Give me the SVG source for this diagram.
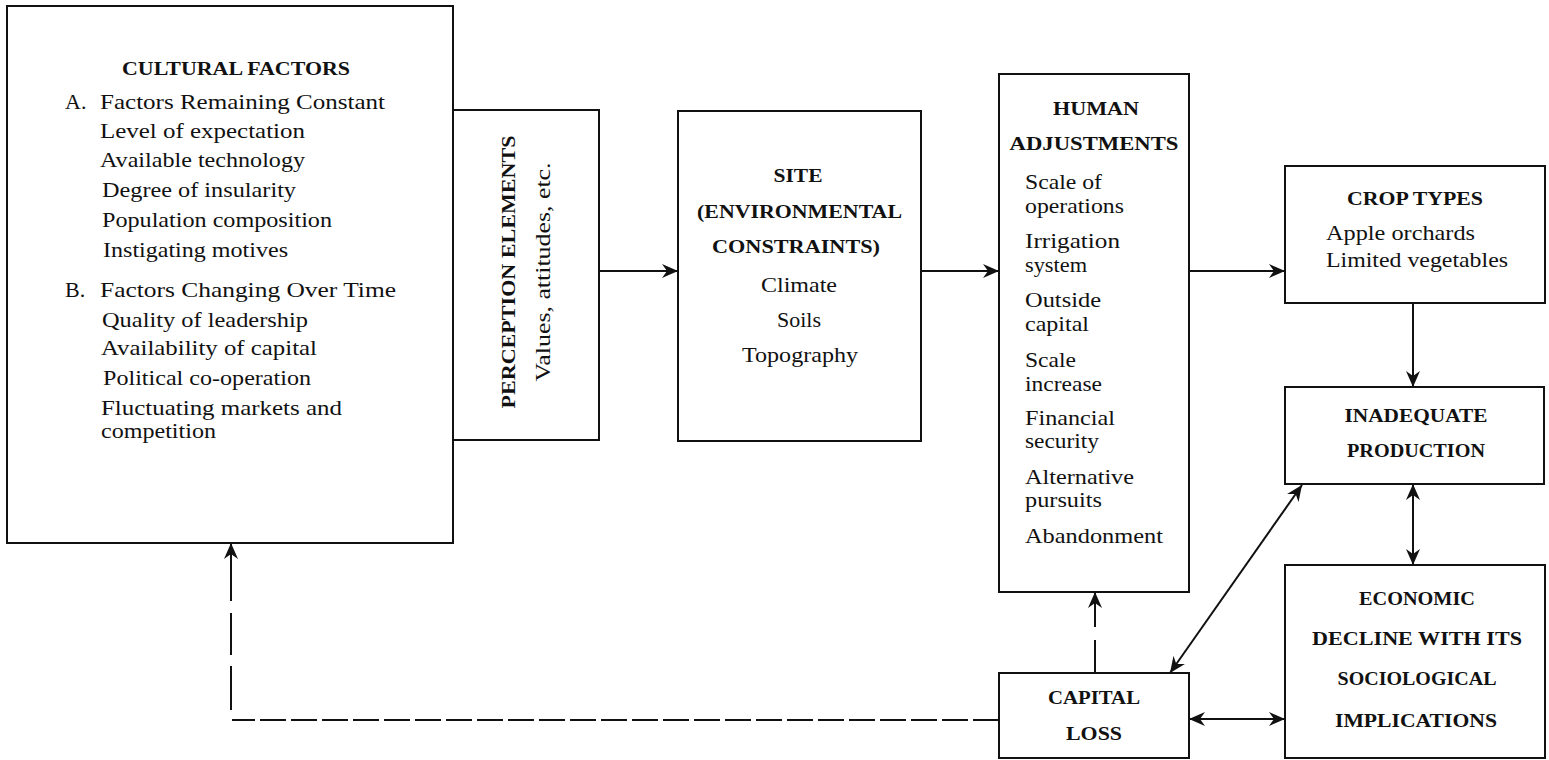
<svg xmlns="http://www.w3.org/2000/svg" width="1549" height="760" viewBox="0 0 1549 760">
<style>
.box{fill:#fff;stroke:#111;stroke-width:2}
.t{font-family:"Liberation Serif","DejaVu Serif",serif;font-size:22px;fill:#111}
.c{font-family:"Liberation Serif","DejaVu Serif",serif;font-size:19px;font-weight:bold;fill:#111}
.m{text-anchor:middle}
.ln{fill:none;stroke:#111;stroke-width:2}
</style>
<defs>
<marker id="ah" viewBox="0 0 16 14" refX="16" refY="7" markerWidth="16" markerHeight="14" markerUnits="userSpaceOnUse" orient="auto-start-reverse">
<path d="M0,0 L16,7 L0,14 L5,7 z" fill="#111"/>
</marker>
</defs>
<rect width="1549" height="760" fill="#fff"/>

<g id="cultural">
<rect class="box" x="7" y="6" width="446" height="537"/>
<text class="c m" x="236" y="75" textLength="228" lengthAdjust="spacingAndGlyphs">CULTURAL FACTORS</text>
<text class="t" x="65" y="109">A.</text>
<text class="t" x="100" y="109" textLength="285" lengthAdjust="spacingAndGlyphs">Factors Remaining Constant</text>
<text class="t" x="100" y="138" textLength="205" lengthAdjust="spacingAndGlyphs">Level of expectation</text>
<text class="t" x="100" y="167" textLength="205" lengthAdjust="spacingAndGlyphs">Available technology</text>
<text class="t" x="102" y="197" textLength="194" lengthAdjust="spacingAndGlyphs">Degree of insularity</text>
<text class="t" x="102" y="227" textLength="230" lengthAdjust="spacingAndGlyphs">Population composition</text>
<text class="t" x="103" y="257" textLength="185" lengthAdjust="spacingAndGlyphs">Instigating motives</text>
<text class="t" x="65" y="297">B.</text>
<text class="t" x="100" y="297" textLength="296" lengthAdjust="spacingAndGlyphs">Factors Changing Over Time</text>
<text class="t" x="102" y="327" textLength="206" lengthAdjust="spacingAndGlyphs">Quality of leadership</text>
<text class="t" x="101" y="355" textLength="216" lengthAdjust="spacingAndGlyphs">Availability of capital</text>
<text class="t" x="103" y="385" textLength="208" lengthAdjust="spacingAndGlyphs">Political co-operation</text>
<text class="t" x="101" y="415" textLength="241" lengthAdjust="spacingAndGlyphs">Fluctuating markets and</text>
<text class="t" x="101" y="438" textLength="115" lengthAdjust="spacingAndGlyphs">competition</text>
</g>

<g id="perception">
<rect class="box" x="453" y="110" width="146" height="330"/>
<text class="c m" transform="translate(515,272) rotate(-90)" x="0" y="0" textLength="273" lengthAdjust="spacingAndGlyphs">PERCEPTION ELEMENTS</text>
<text class="t m" transform="translate(550,272) rotate(-90)" x="0" y="0" textLength="219" lengthAdjust="spacingAndGlyphs">Values, attitudes, etc.</text>
</g>

<g id="site">
<rect class="box" x="678" y="111" width="243" height="330"/>
<text class="c m" x="798" y="182" textLength="49" lengthAdjust="spacingAndGlyphs">SITE</text>
<text class="c" x="697" y="218" textLength="205" lengthAdjust="spacingAndGlyphs">(ENVIRONMENTAL</text>
<text class="c" x="712" y="253" textLength="168" lengthAdjust="spacingAndGlyphs">CONSTRAINTS)</text>
<text class="t m" x="799" y="292" textLength="76" lengthAdjust="spacingAndGlyphs">Climate</text>
<text class="t m" x="799" y="327" textLength="44" lengthAdjust="spacingAndGlyphs">Soils</text>
<text class="t m" x="800" y="362" textLength="116" lengthAdjust="spacingAndGlyphs">Topography</text>
</g>

<g id="human">
<rect class="box" x="999" y="74" width="190" height="518"/>
<text class="c m" x="1096" y="115" textLength="86" lengthAdjust="spacingAndGlyphs">HUMAN</text>
<text class="c m" x="1094" y="150" textLength="169" lengthAdjust="spacingAndGlyphs">ADJUSTMENTS</text>
<text class="t" x="1025" y="189" textLength="77" lengthAdjust="spacingAndGlyphs">Scale of</text>
<text class="t" x="1025" y="213" textLength="99" lengthAdjust="spacingAndGlyphs">operations</text>
<text class="t" x="1025" y="248" textLength="95" lengthAdjust="spacingAndGlyphs">Irrigation</text>
<text class="t" x="1025" y="272" textLength="62" lengthAdjust="spacingAndGlyphs">system</text>
<text class="t" x="1025" y="307" textLength="76" lengthAdjust="spacingAndGlyphs">Outside</text>
<text class="t" x="1025" y="331" textLength="64" lengthAdjust="spacingAndGlyphs">capital</text>
<text class="t" x="1025" y="367" textLength="51" lengthAdjust="spacingAndGlyphs">Scale</text>
<text class="t" x="1025" y="391" textLength="77" lengthAdjust="spacingAndGlyphs">increase</text>
<text class="t" x="1025" y="425" textLength="90" lengthAdjust="spacingAndGlyphs">Financial</text>
<text class="t" x="1025" y="448" textLength="74" lengthAdjust="spacingAndGlyphs">security</text>
<text class="t" x="1025" y="484" textLength="109" lengthAdjust="spacingAndGlyphs">Alternative</text>
<text class="t" x="1025" y="507" textLength="77" lengthAdjust="spacingAndGlyphs">pursuits</text>
<text class="t" x="1025" y="543" textLength="138" lengthAdjust="spacingAndGlyphs">Abandonment</text>
</g>

<g id="crop">
<rect class="box" x="1285" y="166" width="260" height="137"/>
<text class="c m" x="1415" y="205" textLength="136" lengthAdjust="spacingAndGlyphs">CROP TYPES</text>
<text class="t" x="1326" y="240" textLength="149" lengthAdjust="spacingAndGlyphs">Apple orchards</text>
<text class="t" x="1326" y="267" textLength="182" lengthAdjust="spacingAndGlyphs">Limited vegetables</text>
</g>

<g id="inadequate">
<rect class="box" x="1285" y="387" width="259" height="97"/>
<text class="c m" x="1416" y="422" textLength="143" lengthAdjust="spacingAndGlyphs">INADEQUATE</text>
<text class="c m" x="1416" y="457" textLength="138" lengthAdjust="spacingAndGlyphs">PRODUCTION</text>
</g>

<g id="economic">
<rect class="box" x="1285" y="565" width="260" height="193"/>
<text class="c m" x="1417" y="605" textLength="116" lengthAdjust="spacingAndGlyphs">ECONOMIC</text>
<text class="c m" x="1417" y="645" textLength="210" lengthAdjust="spacingAndGlyphs">DECLINE WITH ITS</text>
<text class="c m" x="1417" y="685" textLength="159" lengthAdjust="spacingAndGlyphs">SOCIOLOGICAL</text>
<text class="c m" x="1416" y="727" textLength="162" lengthAdjust="spacingAndGlyphs">IMPLICATIONS</text>
</g>

<g id="capital">
<rect class="box" x="999" y="673" width="190" height="85"/>
<text class="c m" x="1094" y="704" textLength="92" lengthAdjust="spacingAndGlyphs">CAPITAL</text>
<text class="c m" x="1094" y="740" textLength="56" lengthAdjust="spacingAndGlyphs">LOSS</text>
</g>

<g id="connectors">
<line class="ln" x1="599" y1="271" x2="678" y2="271" marker-end="url(#ah)"/>
<line class="ln" x1="921" y1="271" x2="999" y2="271" marker-end="url(#ah)"/>
<line class="ln" x1="1189" y1="271" x2="1285" y2="271" marker-end="url(#ah)"/>
<line class="ln" x1="1413" y1="303" x2="1413" y2="387" marker-end="url(#ah)"/>
<line class="ln" x1="1413" y1="484" x2="1413" y2="565" marker-start="url(#ah)" marker-end="url(#ah)"/>
<line class="ln" x1="1170" y1="673" x2="1302" y2="485" marker-start="url(#ah)" marker-end="url(#ah)"/>
<line class="ln" x1="1189" y1="719" x2="1285" y2="719" marker-start="url(#ah)" marker-end="url(#ah)"/>
<line class="ln" x1="1095" y1="673" x2="1095" y2="592" stroke-dasharray="33 13 40" marker-end="url(#ah)"/>
<line class="ln" x1="999" y1="720" x2="232" y2="720" stroke-dasharray="26 5"/>
<line class="ln" x1="231" y1="710" x2="231" y2="543" stroke-dasharray="44 11 42 12 60" marker-end="url(#ah)"/>
</g>
</svg>
